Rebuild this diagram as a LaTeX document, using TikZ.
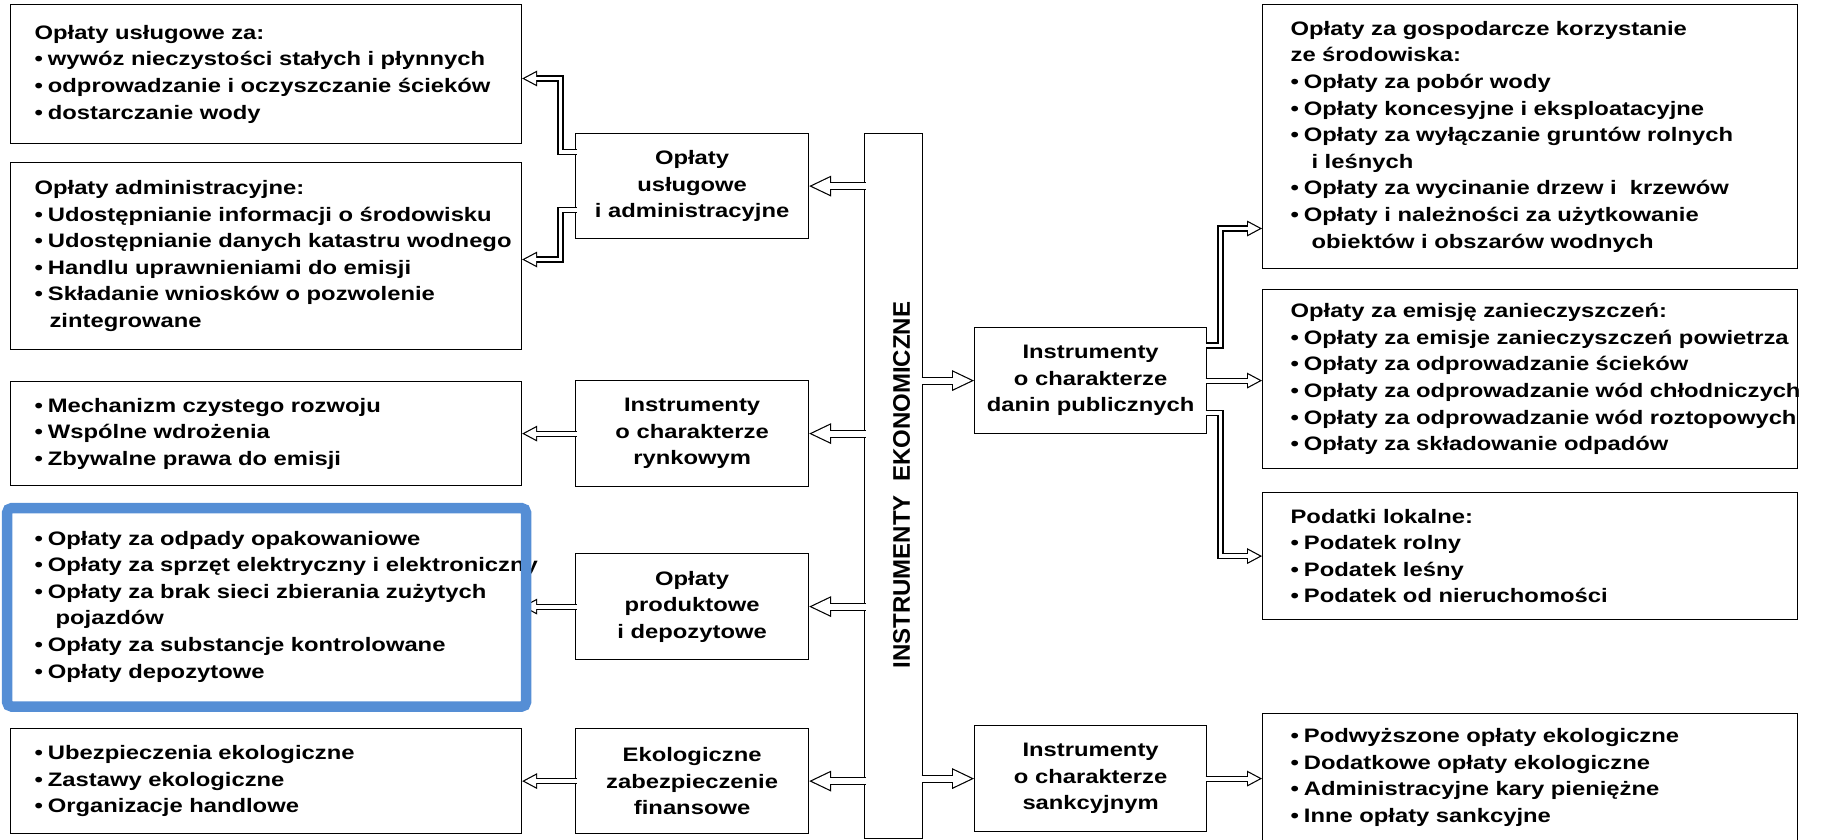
\documentclass[tikz,border=0pt]{standalone}
\usepackage{fontspec}
\setmainfont{Liberation Sans}[FakeStretch=1.22]
\newfontfamily\barfont{Liberation Sans}
\usetikzlibrary{arrows.meta}
\definecolor{hlblue}{RGB}{85,142,213}
\newcommand{\opisfont}{\fontsize{19.5}{26.6}\selectfont\bfseries}
\newcommand{\pkt}[1]{\mbox{\textbullet\hspace{5pt}#1}}
\newcommand{\dalej}[1]{\mbox{\hspace*{21pt}#1}}
\begin{document}
\begin{tikzpicture}[x=1pt, y=-1pt,
    box/.style={draw, line width=1.2pt, anchor=north west, inner ysep=0pt, font=\opisfont},
    lista/.style={box, align=left, inner xsep=24pt, text width=463pt},
    listap/.style={box, align=left, inner xsep=28pt, text width=479pt},
    srodek/.style={box, align=center, inner xsep=0pt},
    duza/.style={line width=8.2pt, -{Triangle[length=22pt, width=21pt, line width=0pt]}, shorten <=-1.5pt,
        postaction={draw=white, line width=5.8pt, shorten >=2.79pt, -{Triangle[length=18pt, width=17.2pt, line width=0pt]}}},
    mala/.style={line width=6.2pt, -{Triangle[length=15pt, width=16pt, line width=0pt]}, shorten <=-1.5pt,
        postaction={draw=white, line width=3.8pt, shorten >=2.55pt, -{Triangle[length=11.25pt, width=12pt, line width=0pt]}}}]
    \useasboundingbox (0,0) rectangle (1821,840);
    % lewa kolumna
    \node[lista, minimum height=139pt] (lbA) at (10,4) {Opłaty usługowe za:\\
        \pkt{wywóz nieczystości stałych i płynnych}\\
        \pkt{odprowadzanie i oczyszczanie ścieków}\\
        \pkt{dostarczanie wody}};
    \node[lista, minimum height=187pt] (lbB) at (10,162) {Opłaty administracyjne:\\
        \pkt{Udostępnianie informacji o środowisku}\\
        \pkt{Udostępnianie danych katastru wodnego}\\
        \pkt{Handlu uprawnieniami do emisji}\\
        \pkt{Składanie wniosków o pozwolenie}\\
        \hspace*{15pt}zintegrowane};
    \node[lista, minimum height=104pt] (lbC) at (10,381) {\pkt{Mechanizm czystego rozwoju}\\
        \pkt{Wspólne wdrożenia}\\
        \pkt{Zbywalne prawa do emisji}};
    \node[lista, minimum height=198pt] (lbD) at (10,507) {\pkt{Opłaty za odpady opakowaniowe}\\
        \pkt{Opłaty za sprzęt elektryczny i elektroniczny}\\
        \pkt{Opłaty za brak sieci zbierania zużytych}\\
        \dalej{pojazdów}\\
        \pkt{Opłaty za substancje kontrolowane}\\
        \pkt{Opłaty depozytowe}};
    \node[lista, minimum height=105pt] (lbE) at (10,728) {\pkt{Ubezpieczenia ekologiczne}\\
        \pkt{Zastawy ekologiczne}\\
        \pkt{Organizacje handlowe}};
    % srodkowe bloki
    \node[srodek, minimum width=233pt, minimum height=105pt] (usl) at (575,133) {Opłaty\\usługowe\\i administracyjne};
    \node[srodek, minimum width=233pt, minimum height=106pt] (ryn) at (575,380) {Instrumenty\\o charakterze\\rynkowym};
    \node[srodek, minimum width=233pt, minimum height=106pt] (prod) at (575,553) {Opłaty\\produktowe\\i depozytowe};
    \node[srodek, minimum width=233pt, minimum height=105pt] (fin) at (575,728) {Ekologiczne\\zabezpieczenie\\finansowe};
    \node[box, minimum width=58pt, minimum height=705pt, inner sep=0pt] (eko) at (864,133) {};
    \node[rotate=90, font=\barfont\fontsize{24}{28}\selectfont\bfseries] (ekonapis) at (901.5,485) {INSTRUMENTY\ \ EKONOMICZNE};
    \node[srodek, minimum width=232pt, minimum height=106pt] (danin) at (974,327) {Instrumenty\\o charakterze\\danin publicznych};
    \node[srodek, minimum width=232pt, minimum height=106pt] (sank) at (974,725) {Instrumenty\\o charakterze\\sankcyjnym};
    % prawa kolumna
    \node[listap, minimum height=264pt] (rbA) at (1262,4) {Opłaty za gospodarcze korzystanie\\
        ze środowiska:\\
        \pkt{Opłaty za pobór wody}\\
        \pkt{Opłaty koncesyjne i eksploatacyjne}\\
        \pkt{Opłaty za wyłączanie gruntów rolnych}\\
        \dalej{i leśnych}\\
        \pkt{Opłaty za wycinanie drzew i\ \ krzewów}\\
        \pkt{Opłaty i należności za użytkowanie}\\
        \dalej{obiektów i obszarów wodnych}};
    \node[listap, minimum height=179pt] (rbB) at (1262,289) {Opłaty za emisję zanieczyszczeń:\\
        \pkt{Opłaty za emisje zanieczyszczeń powietrza}\\
        \pkt{Opłaty za odprowadzanie ścieków}\\
        \pkt{Opłaty za odprowadzanie wód chłodniczych}\\
        \pkt{Opłaty za odprowadzanie wód roztopowych}\\
        \pkt{Opłaty za składowanie odpadów}};
    \node[listap, minimum height=127pt] (rbC) at (1262,492) {Podatki lokalne:\\
        \pkt{Podatek rolny}\\
        \pkt{Podatek leśny}\\
        \pkt{Podatek od nieruchomości}};
    \node[listap, minimum height=128pt] (rbD) at (1262,713) {\pkt{Podwyższone opłaty ekologiczne}\\
        \pkt{Dodatkowe opłaty ekologiczne}\\
        \pkt{Administracyjne kary pieniężne}\\
        \pkt{Inne opłaty sankcyjne}};
    % strzalki od paska
    \draw[duza] (usl.east -| eko.west) -- (usl.east);
    \draw[duza] (ryn.east -| eko.west) -- (ryn.east);
    \draw[duza] (prod.east -| eko.west) -- (prod.east);
    \draw[duza] (fin.east -| eko.west) -- (fin.east);
    \draw[duza] (danin.west -| eko.east) -- (danin.west);
    \draw[duza] (sank.west -| eko.east) -- (sank.west);
    % rozgalezienia
    \coordinate (lrozg) at (560.5,0);
    \coordinate (prozg) at (1220.5,0);
    \draw[mala] (usl.west |- 0,152) -| (lrozg |- 0,78.5) -- (lbA.east |- 0,78.5);
    \draw[mala] (usl.west |- 0,210) -| (lrozg |- 0,259.5) -- (lbB.east |- 0,259.5);
    \draw[mala] (ryn.west) -- (ryn.west -| lbC.east);
    \draw[mala] (prod.west) -- (prod.west -| lbD.east);
    \draw[mala] (fin.west) -- (fin.west -| lbE.east);
    \draw[mala] (danin.east |- 0,345.5) -| (prozg |- 0,228.5) -- (rbA.west |- 0,228.5);
    \draw[mala] (danin.east) -- (danin.east -| rbB.west);
    \draw[mala] (danin.east |- 0,413) -| (prozg |- rbC.west) -- (rbC.west);
    \draw[mala] (sank.east) -- (sank.east -| rbD.west);
    % niebieska ramka
    \draw[hlblue, line width=10.5pt, rounded corners=5pt] ([shift={(-3,1)}]lbD.north west) rectangle ([shift={(4,0.5)}]lbD.south east);
\end{tikzpicture}
\end{document}
